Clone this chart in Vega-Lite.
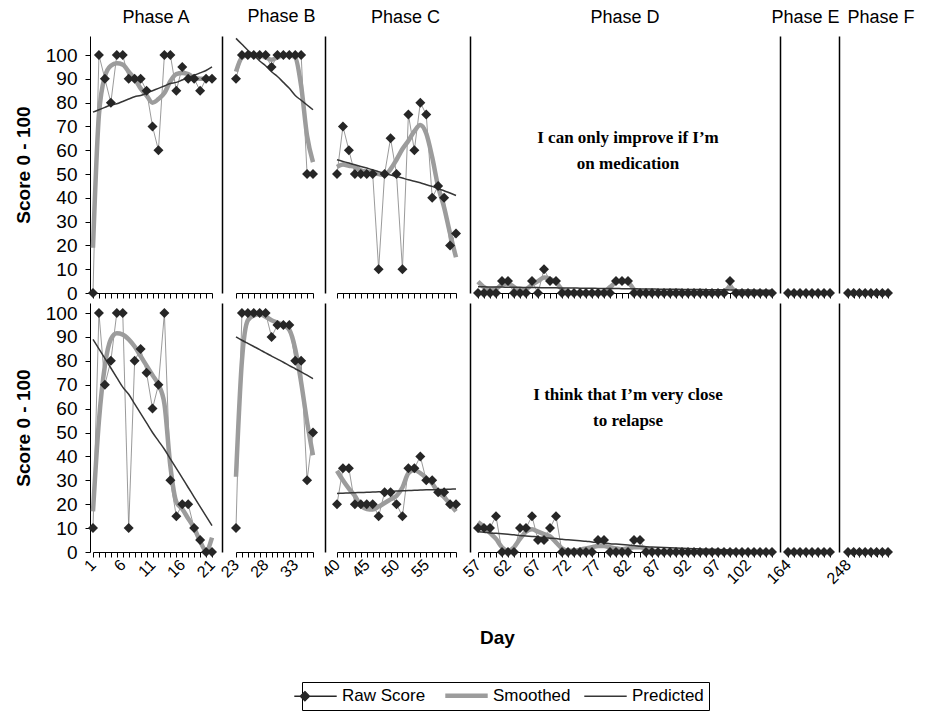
{
"$schema":"https://vega.github.io/schema/vega-lite/v6.json",
"background":"white",
"padding":{"left":14,"top":8,"right":5,"bottom":0},
"config":{"font":"Liberation Sans","view":{"stroke":null},
"axis":{"grid":false,"domainColor":"#000","tickColor":"#000","labelColor":"#000","titleColor":"#000","tickSize":5,"domainWidth":1,"tickWidth":1},
"title":{"fontSize":18,"fontWeight":"normal","color":"#000","anchor":"middle","frame":"group","offset":9}},
"datasets":{"obs":[
{"phase":"A","day":1,"raw1":0,"smooth1":19,"pred1":76,"raw2":10,"smooth2":17,"pred2":89},
{"phase":"A","day":2,"raw1":100,"smooth1":75,"pred1":77,"raw2":100,"smooth2":55,"pred2":85},
{"phase":"A","day":3,"raw1":90,"smooth1":91,"pred1":78,"raw2":70,"smooth2":78,"pred2":81},
{"phase":"A","day":4,"raw1":80,"smooth1":95.5,"pred1":79,"raw2":80,"smooth2":89,"pred2":77},
{"phase":"A","day":5,"raw1":100,"smooth1":96.5,"pred1":79.5,"raw2":100,"smooth2":91.5,"pred2":73},
{"phase":"A","day":6,"raw1":100,"smooth1":96,"pred1":80.5,"raw2":100,"smooth2":91,"pred2":69},
{"phase":"A","day":7,"raw1":90,"smooth1":93,"pred1":81.5,"raw2":10,"smooth2":89,"pred2":66},
{"phase":"A","day":8,"raw1":90,"smooth1":90,"pred1":82.5,"raw2":80,"smooth2":86,"pred2":62},
{"phase":"A","day":9,"raw1":90,"smooth1":86,"pred1":83,"raw2":85,"smooth2":82,"pred2":58},
{"phase":"A","day":10,"raw1":85,"smooth1":83,"pred1":84,"raw2":75,"smooth2":78,"pred2":54},
{"phase":"A","day":11,"raw1":70,"smooth1":80,"pred1":85,"raw2":60,"smooth2":74,"pred2":50},
{"phase":"A","day":12,"raw1":60,"smooth1":81.5,"pred1":86,"raw2":70,"smooth2":70,"pred2":46.5},
{"phase":"A","day":13,"raw1":100,"smooth1":84,"pred1":87,"raw2":100,"smooth2":62,"pred2":43},
{"phase":"A","day":14,"raw1":100,"smooth1":89,"pred1":88,"raw2":30,"smooth2":36,"pred2":39},
{"phase":"A","day":15,"raw1":85,"smooth1":92,"pred1":88.5,"raw2":15,"smooth2":21,"pred2":35},
{"phase":"A","day":16,"raw1":95,"smooth1":92.5,"pred1":89.5,"raw2":20,"smooth2":18,"pred2":31},
{"phase":"A","day":17,"raw1":90,"smooth1":92,"pred1":90.5,"raw2":20,"smooth2":14,"pred2":27},
{"phase":"A","day":18,"raw1":90,"smooth1":90.5,"pred1":91.5,"raw2":10,"smooth2":10,"pred2":23},
{"phase":"A","day":19,"raw1":85,"smooth1":90,"pred1":92.5,"raw2":5,"smooth2":4.5,"pred2":19},
{"phase":"A","day":20,"raw1":90,"smooth1":90,"pred1":93.5,"raw2":0,"smooth2":0.5,"pred2":15},
{"phase":"A","day":21,"raw1":90,"smooth1":90,"pred1":95,"raw2":0,"smooth2":6,"pred2":11},
{"phase":"B","day":23,"raw1":90,"smooth1":93,"pred1":107,"raw2":10,"smooth2":31.5,"pred2":90},
{"phase":"B","day":24,"raw1":100,"smooth1":99,"pred1":104.5,"raw2":100,"smooth2":80,"pred2":88.6},
{"phase":"B","day":25,"raw1":100,"smooth1":100,"pred1":102,"raw2":100,"smooth2":97,"pred2":87.3},
{"phase":"B","day":26,"raw1":100,"smooth1":100,"pred1":100,"raw2":100,"smooth2":99,"pred2":86},
{"phase":"B","day":27,"raw1":100,"smooth1":100,"pred1":97.5,"raw2":100,"smooth2":99.5,"pred2":84.7},
{"phase":"B","day":28,"raw1":100,"smooth1":99,"pred1":95.5,"raw2":100,"smooth2":98.5,"pred2":83.3},
{"phase":"B","day":29,"raw1":95,"smooth1":98,"pred1":93,"raw2":90,"smooth2":97,"pred2":82},
{"phase":"B","day":30,"raw1":100,"smooth1":99,"pred1":91,"raw2":95,"smooth2":96,"pred2":80.7},
{"phase":"B","day":31,"raw1":100,"smooth1":100,"pred1":88.5,"raw2":95,"smooth2":95,"pred2":79.4},
{"phase":"B","day":32,"raw1":100,"smooth1":100,"pred1":86,"raw2":95,"smooth2":93,"pred2":78},
{"phase":"B","day":33,"raw1":100,"smooth1":99,"pred1":83,"raw2":80,"smooth2":85,"pred2":76.7},
{"phase":"B","day":34,"raw1":100,"smooth1":87,"pred1":81,"raw2":80,"smooth2":71,"pred2":75.4},
{"phase":"B","day":35,"raw1":50,"smooth1":66,"pred1":79,"raw2":30,"smooth2":54.5,"pred2":74},
{"phase":"B","day":36,"raw1":50,"smooth1":55,"pred1":77,"raw2":50,"smooth2":40.5,"pred2":72.5},
{"phase":"C","day":40,"raw1":50,"smooth1":53,"pred1":56,"raw2":20,"smooth2":34,"pred2":24.5},
{"phase":"C","day":41,"raw1":70,"smooth1":54,"pred1":55.3,"raw2":35,"smooth2":30,"pred2":24.6},
{"phase":"C","day":42,"raw1":60,"smooth1":53.5,"pred1":54.6,"raw2":35,"smooth2":26.5,"pred2":24.7},
{"phase":"C","day":43,"raw1":50,"smooth1":53,"pred1":53.9,"raw2":20,"smooth2":23.5,"pred2":24.8},
{"phase":"C","day":44,"raw1":50,"smooth1":51.5,"pred1":53.2,"raw2":20,"smooth2":19.5,"pred2":24.9},
{"phase":"C","day":45,"raw1":50,"smooth1":51,"pred1":52.5,"raw2":20,"smooth2":18,"pred2":25},
{"phase":"C","day":46,"raw1":50,"smooth1":50.5,"pred1":51.8,"raw2":20,"smooth2":17.8,"pred2":25.1},
{"phase":"C","day":47,"raw1":10,"smooth1":50,"pred1":51,"raw2":15,"smooth2":19,"pred2":25.2},
{"phase":"C","day":48,"raw1":50,"smooth1":49.7,"pred1":50.3,"raw2":25,"smooth2":20.5,"pred2":25.3},
{"phase":"C","day":49,"raw1":65,"smooth1":52,"pred1":49.6,"raw2":25,"smooth2":22,"pred2":25.4},
{"phase":"C","day":50,"raw1":50,"smooth1":56,"pred1":49,"raw2":20,"smooth2":23.5,"pred2":25.5},
{"phase":"C","day":51,"raw1":10,"smooth1":60.5,"pred1":48.3,"raw2":15,"smooth2":27,"pred2":25.6},
{"phase":"C","day":52,"raw1":75,"smooth1":64,"pred1":47.6,"raw2":35,"smooth2":33,"pred2":25.7},
{"phase":"C","day":53,"raw1":60,"smooth1":68,"pred1":47,"raw2":35,"smooth2":34.3,"pred2":25.8},
{"phase":"C","day":54,"raw1":80,"smooth1":70.6,"pred1":46.3,"raw2":40,"smooth2":33,"pred2":25.9},
{"phase":"C","day":55,"raw1":75,"smooth1":67,"pred1":45.5,"raw2":30,"smooth2":31,"pred2":26},
{"phase":"C","day":56,"raw1":40,"smooth1":57,"pred1":44.8,"raw2":30,"smooth2":28.7,"pred2":26},
{"phase":"C","day":57,"raw1":45,"smooth1":44.7,"pred1":43.8,"raw2":25,"smooth2":25,"pred2":26.1},
{"phase":"C","day":58,"raw1":40,"smooth1":36,"pred1":43,"raw2":25,"smooth2":23,"pred2":26.2},
{"phase":"C","day":59,"raw1":20,"smooth1":25,"pred1":42,"raw2":20,"smooth2":20,"pred2":26.3},
{"phase":"C","day":60,"raw1":25,"smooth1":15,"pred1":41,"raw2":20,"smooth2":17,"pred2":26.4},
{"phase":"D","day":57,"raw1":0,"smooth1":4.8,"pred1":2.6,"raw2":10,"smooth2":12.5,"pred2":8.5},
{"phase":"D","day":58,"raw1":0,"smooth1":2.5,"pred1":2.6,"raw2":10,"smooth2":10.5,"pred2":8.3},
{"phase":"D","day":59,"raw1":0,"smooth1":1.5,"pred1":2.5,"raw2":10,"smooth2":8,"pred2":8.0},
{"phase":"D","day":60,"raw1":0,"smooth1":1.8,"pred1":2.5,"raw2":15,"smooth2":5.5,"pred2":7.8},
{"phase":"D","day":61,"raw1":5,"smooth1":3.5,"pred1":2.5,"raw2":0,"smooth2":2,"pred2":7.6},
{"phase":"D","day":62,"raw1":5,"smooth1":4,"pred1":2.4,"raw2":0,"smooth2":0.5,"pred2":7.4},
{"phase":"D","day":63,"raw1":0,"smooth1":2.5,"pred1":2.4,"raw2":0,"smooth2":2,"pred2":7.2},
{"phase":"D","day":64,"raw1":0,"smooth1":1,"pred1":2.4,"raw2":10,"smooth2":5.5,"pred2":6.9},
{"phase":"D","day":65,"raw1":0,"smooth1":1.5,"pred1":2.3,"raw2":10,"smooth2":8.5,"pred2":6.7},
{"phase":"D","day":66,"raw1":5,"smooth1":3.5,"pred1":2.3,"raw2":15,"smooth2":9.5,"pred2":6.5},
{"phase":"D","day":67,"raw1":0,"smooth1":5,"pred1":2.3,"raw2":5,"smooth2":8.5,"pred2":6.3},
{"phase":"D","day":68,"raw1":10,"smooth1":6.5,"pred1":2.2,"raw2":5,"smooth2":7.5,"pred2":6.0},
{"phase":"D","day":69,"raw1":5,"smooth1":6,"pred1":2.2,"raw2":10,"smooth2":6.5,"pred2":5.8},
{"phase":"D","day":70,"raw1":5,"smooth1":4.5,"pred1":2.2,"raw2":15,"smooth2":4,"pred2":5.6},
{"phase":"D","day":71,"raw1":0,"smooth1":1.5,"pred1":2.1,"raw2":0,"smooth2":1.5,"pred2":5.3},
{"phase":"D","day":72,"raw1":0,"smooth1":0.3,"pred1":2.1,"raw2":0,"smooth2":0.5,"pred2":5.1},
{"phase":"D","day":73,"raw1":0,"smooth1":0,"pred1":2.1,"raw2":0,"smooth2":0.5,"pred2":4.9},
{"phase":"D","day":74,"raw1":0,"smooth1":0,"pred1":2.0,"raw2":0,"smooth2":1,"pred2":4.7},
{"phase":"D","day":75,"raw1":0,"smooth1":0,"pred1":2.0,"raw2":0,"smooth2":1.5,"pred2":4.5},
{"phase":"D","day":76,"raw1":0,"smooth1":0,"pred1":2.0,"raw2":0,"smooth2":2,"pred2":4.2},
{"phase":"D","day":77,"raw1":0,"smooth1":0,"pred1":1.9,"raw2":5,"smooth2":2.5,"pred2":4.0},
{"phase":"D","day":78,"raw1":0,"smooth1":0.5,"pred1":1.9,"raw2":5,"smooth2":2.5,"pred2":3.8},
{"phase":"D","day":79,"raw1":0,"smooth1":2.5,"pred1":1.9,"raw2":0,"smooth2":2,"pred2":3.5},
{"phase":"D","day":80,"raw1":5,"smooth1":4.5,"pred1":1.9,"raw2":0,"smooth2":1.5,"pred2":3.3},
{"phase":"D","day":81,"raw1":5,"smooth1":5,"pred1":1.8,"raw2":0,"smooth2":1.2,"pred2":3.1},
{"phase":"D","day":82,"raw1":5,"smooth1":4.5,"pred1":1.8,"raw2":0,"smooth2":1.5,"pred2":2.9},
{"phase":"D","day":83,"raw1":0,"smooth1":1.5,"pred1":1.8,"raw2":5,"smooth2":2,"pred2":2.7},
{"phase":"D","day":84,"raw1":0,"smooth1":0.2,"pred1":1.7,"raw2":5,"smooth2":2,"pred2":2.4},
{"phase":"D","day":85,"raw1":0,"smooth1":0,"pred1":1.7,"raw2":0,"smooth2":1.5,"pred2":2.2},
{"phase":"D","day":86,"raw1":0,"smooth1":0,"pred1":1.7,"raw2":0,"smooth2":0.8,"pred2":2.1},
{"phase":"D","day":87,"raw1":0,"smooth1":0,"pred1":1.6,"raw2":0,"smooth2":0.3,"pred2":2.0},
{"phase":"D","day":88,"raw1":0,"smooth1":0,"pred1":1.6,"raw2":0,"smooth2":0,"pred2":1.9},
{"phase":"D","day":89,"raw1":0,"smooth1":0,"pred1":1.6,"raw2":0,"smooth2":0,"pred2":1.8},
{"phase":"D","day":90,"raw1":0,"smooth1":0,"pred1":1.6,"raw2":0,"smooth2":0,"pred2":1.7},
{"phase":"D","day":91,"raw1":0,"smooth1":0,"pred1":1.5,"raw2":0,"smooth2":0,"pred2":1.6},
{"phase":"D","day":92,"raw1":0,"smooth1":0,"pred1":1.5,"raw2":0,"smooth2":0,"pred2":1.5},
{"phase":"D","day":93,"raw1":0,"smooth1":0,"pred1":1.5,"raw2":0,"smooth2":0,"pred2":1.4},
{"phase":"D","day":94,"raw1":0,"smooth1":0,"pred1":1.5,"raw2":0,"smooth2":0,"pred2":1.3},
{"phase":"D","day":95,"raw1":0,"smooth1":0,"pred1":1.4,"raw2":0,"smooth2":0,"pred2":1.2},
{"phase":"D","day":96,"raw1":0,"smooth1":0,"pred1":1.4,"raw2":0,"smooth2":0,"pred2":1.1},
{"phase":"D","day":97,"raw1":0,"smooth1":0,"pred1":1.4,"raw2":0,"smooth2":0,"pred2":1.0},
{"phase":"D","day":98,"raw1":0,"smooth1":0.5,"pred1":1.4,"raw2":0,"smooth2":0,"pred2":0.9},
{"phase":"D","day":99,"raw1":5,"smooth1":2.5,"pred1":1.3,"raw2":0,"smooth2":0,"pred2":0.8},
{"phase":"D","day":100,"raw1":0,"smooth1":0.5,"pred1":1.3,"raw2":0,"smooth2":0,"pred2":0.7},
{"phase":"D","day":101,"raw1":0,"smooth1":0,"pred1":1.3,"raw2":0,"smooth2":0,"pred2":0.6},
{"phase":"D","day":102,"raw1":0,"smooth1":0,"pred1":1.3,"raw2":0,"smooth2":0,"pred2":0.55},
{"phase":"D","day":103,"raw1":0,"smooth1":0,"pred1":1.2,"raw2":0,"smooth2":0,"pred2":0.5},
{"phase":"D","day":104,"raw1":0,"smooth1":0,"pred1":1.2,"raw2":0,"smooth2":0,"pred2":0.4},
{"phase":"D","day":105,"raw1":0,"smooth1":0,"pred1":1.2,"raw2":0,"smooth2":0,"pred2":0.35},
{"phase":"D","day":106,"raw1":0,"smooth1":0,"pred1":1.2,"raw2":0,"smooth2":0,"pred2":0.3},
{"phase":"E","day":164,"raw1":0,"raw2":0},
{"phase":"E","day":165,"raw1":0,"raw2":0},
{"phase":"E","day":166,"raw1":0,"raw2":0},
{"phase":"E","day":167,"raw1":0,"raw2":0},
{"phase":"E","day":168,"raw1":0,"raw2":0},
{"phase":"E","day":169,"raw1":0,"raw2":0},
{"phase":"E","day":170,"raw1":0,"raw2":0},
{"phase":"E","day":171,"raw1":0,"raw2":0},
{"phase":"F","day":248,"raw1":0,"raw2":0},
{"phase":"F","day":249,"raw1":0,"raw2":0},
{"phase":"F","day":250,"raw1":0,"raw2":0},
{"phase":"F","day":251,"raw1":0,"raw2":0},
{"phase":"F","day":252,"raw1":0,"raw2":0},
{"phase":"F","day":253,"raw1":0,"raw2":0},
{"phase":"F","day":254,"raw1":0,"raw2":0},
{"phase":"F","day":255,"raw1":0,"raw2":0}
]},
"data":{"name":"obs"},
"spacing":0,
"resolve":{"scale":{"color":"shared"},"legend":{"color":"shared"}},
"vconcat":[
{"spacing":0,"bounds":"flush","resolve":{"scale":{"color":"shared"},"legend":{"color":"shared"}},
"hconcat":[
{"width":132,"height":257,"title":{"text":"Phase A"},
"transform":[{"filter":{"field":"phase","equal":"A"}}],
"encoding":{"x":{"field":"day","type":"ordinal","scale":{"padding":0,"range":[3,122]},"axis":{"labels":false,"title":null}}},
"layer":[
{"mark":{"type":"line","color":"#808080","strokeWidth":0.8},"encoding":{"y":{"field":"raw1","type":"quantitative","scale":{"domain":[0,108],"nice":false},"axis":{"title":"Score 0 - 100","values":[0,10,20,30,40,50,60,70,80,90,100],"tickCount":11,"labelOverlap":false,"labelFontSize":19,"titleFontSize":19,"titleFontWeight":"bold","labelPadding":8,"titlePadding":12}}}},
{"mark":{"type":"line","strokeWidth":4.5,"interpolate":"monotone"},"encoding":{"y":{"field":"smooth1","type":"quantitative"},"color":{"datum":"Smoothed","type":"nominal","scale":{"domain":["Raw Score","Smoothed","Predicted"],"range":["#262626","#9c9c9c","#363636"]},
"legend":{"orient":"none","legendX":212,"legendY":646,"direction":"horizontal","title":null,"strokeColor":"#000","padding":5,"labelFontSize":17,"labelColor":"#000","symbolSize":1800,"symbolType":"stroke","columnPadding":10,"labelOffset":18,"values":["Raw Score","Smoothed","Predicted"],
"encode":{"symbols":{"update":{"shape":{"signal":"datum.value === 'Raw Score' ? 'M-1,0L1,0M-0.5,-0.22L-0.28,0L-0.5,0.22L-0.72,0Z' : 'stroke'"},"strokeWidth":{"signal":"datum.value === 'Smoothed' ? 4.5 : 1.3"},"stroke":{"scale":"color","field":"value"},"fill":{"signal":"datum.value === 'Raw Score' ? '#262626' : 'transparent'"},"opacity":{"value":1},"fillOpacity":{"value":1},"strokeOpacity":{"value":1}}}}}}}},
{"mark":{"type":"line","strokeWidth":1.5,"interpolate":"monotone"},"encoding":{"y":{"field":"pred1","type":"quantitative"},"color":{"datum":"Predicted","type":"nominal"}}},
{"mark":{"type":"point","shape":"diamond","filled":true,"size":100,"opacity":1},"encoding":{"y":{"field":"raw1","type":"quantitative"},"color":{"datum":"Raw Score","type":"nominal"}}}
]},
{"width":103,"height":257,"title":{"text":"Phase B","dx":8},
"transform":[{"filter":{"field":"phase","equal":"B"}}],
"encoding":{"x":{"field":"day","type":"ordinal","scale":{"padding":0,"range":[14,91]},"axis":{"labels":false,"title":null}}},
"layer":[
{"mark":{"type":"line","color":"#808080","strokeWidth":0.8},"encoding":{"y":{"field":"raw1","type":"quantitative","scale":{"domain":[0,108],"nice":false},"axis":{"title":null,"labels":false,"ticks":false,"domainWidth":1.5}}}},
{"mark":{"type":"line","strokeWidth":4.5,"interpolate":"monotone"},"encoding":{"y":{"field":"smooth1","type":"quantitative"},"color":{"datum":"Smoothed","type":"nominal"}}},
{"mark":{"type":"line","strokeWidth":1.5,"interpolate":"monotone"},"encoding":{"y":{"field":"pred1","type":"quantitative"},"color":{"datum":"Predicted","type":"nominal"}}},
{"mark":{"type":"point","shape":"diamond","filled":true,"size":100,"opacity":1},"encoding":{"y":{"field":"raw1","type":"quantitative"},"color":{"datum":"Raw Score","type":"nominal"}}}
]},
{"width":145,"height":257,"title":{"text":"Phase C","dx":8},
"transform":[{"filter":{"field":"phase","equal":"C"}}],
"encoding":{"x":{"field":"day","type":"ordinal","scale":{"padding":0,"range":[12,131]},"axis":{"labels":false,"title":null}}},
"layer":[
{"mark":{"type":"line","color":"#808080","strokeWidth":0.8},"encoding":{"y":{"field":"raw1","type":"quantitative","scale":{"domain":[0,108],"nice":false},"axis":{"title":null,"labels":false,"ticks":false,"domainWidth":1.5}}}},
{"mark":{"type":"line","strokeWidth":4.5,"interpolate":"monotone"},"encoding":{"y":{"field":"smooth1","type":"quantitative"},"color":{"datum":"Smoothed","type":"nominal"}}},
{"mark":{"type":"line","strokeWidth":1.5,"interpolate":"monotone"},"encoding":{"y":{"field":"pred1","type":"quantitative"},"color":{"datum":"Predicted","type":"nominal"}}},
{"mark":{"type":"point","shape":"diamond","filled":true,"size":100,"opacity":1},"encoding":{"y":{"field":"raw1","type":"quantitative"},"color":{"datum":"Raw Score","type":"nominal"}}}
]},
{"width":310,"height":257,"title":{"text":"Phase D"},
"transform":[{"filter":{"field":"phase","equal":"D"}}],
"encoding":{"x":{"field":"day","type":"ordinal","scale":{"padding":0,"range":[8,302]},"axis":{"labels":false,"title":null}}},
"layer":[
{"mark":{"type":"line","color":"#808080","strokeWidth":0.8},"encoding":{"y":{"field":"raw1","type":"quantitative","scale":{"domain":[0,108],"nice":false},"axis":{"title":null,"labels":false,"ticks":false,"domainWidth":1.5}}}},
{"mark":{"type":"line","strokeWidth":4.5,"interpolate":"monotone"},"encoding":{"y":{"field":"smooth1","type":"quantitative"},"color":{"datum":"Smoothed","type":"nominal"}}},
{"mark":{"type":"line","strokeWidth":1.5,"interpolate":"monotone"},"encoding":{"y":{"field":"pred1","type":"quantitative"},"color":{"datum":"Predicted","type":"nominal"}}},
{"mark":{"type":"point","shape":"diamond","filled":true,"size":100,"opacity":1},"encoding":{"y":{"field":"raw1","type":"quantitative"},"color":{"datum":"Raw Score","type":"nominal"}}},
{"data":{"values":[{"phase":"D","note":"I can only improve if I’m\non medication"}]},"mark":{"type":"text","font":"Liberation Serif","fontWeight":"bold","fontSize":17,"lineBreak":"\n","lineHeight":26,"color":"#000"},"encoding":{"x":{"datum":82,"type":"ordinal"},"y":{"datum":65,"type":"quantitative"},"text":{"field":"note"}}}
]},
{"width":59,"height":257,"title":{"text":"Phase E","dx":-4},
"transform":[{"filter":{"field":"phase","equal":"E"}}],
"encoding":{"x":{"field":"day","type":"ordinal","scale":{"padding":0,"range":[8,50]},"axis":{"labels":false,"title":null}}},
"layer":[
{"mark":{"type":"line","color":"#808080","strokeWidth":0.8},"encoding":{"y":{"field":"raw1","type":"quantitative","scale":{"domain":[0,108],"nice":false},"axis":{"title":null,"labels":false,"ticks":false,"domainWidth":1.5}}}},
{"mark":{"type":"point","shape":"diamond","filled":true,"size":100,"opacity":1},"encoding":{"y":{"field":"raw1","type":"quantitative"},"color":{"datum":"Raw Score","type":"nominal"}}}
]},
{"width":56,"height":257,"title":{"text":"Phase F","dx":14},
"transform":[{"filter":{"field":"phase","equal":"F"}}],
"encoding":{"x":{"field":"day","type":"ordinal","scale":{"padding":0,"range":[9,49]},"axis":{"labels":false,"title":null}}},
"layer":[
{"mark":{"type":"line","color":"#808080","strokeWidth":0.8},"encoding":{"y":{"field":"raw1","type":"quantitative","scale":{"domain":[0,108],"nice":false},"axis":{"title":null,"labels":false,"ticks":false,"domainWidth":1.5}}}},
{"mark":{"type":"point","shape":"diamond","filled":true,"size":100,"opacity":1},"encoding":{"y":{"field":"raw1","type":"quantitative"},"color":{"datum":"Raw Score","type":"nominal"}}}
]}
]},
{"spacing":0,"bounds":"flush","resolve":{"scale":{"color":"shared"},"legend":{"color":"shared"}},
"hconcat":[
{"width":132,"height":249,
"transform":[{"filter":{"field":"phase","equal":"A"}}],
"encoding":{"x":{"field":"day","type":"ordinal","scale":{"padding":0,"range":[3,122]},"axis":{"title":null,"labelAngle":-45,"labelAlign":"right","labelBaseline":"middle","labelFontSize":16,"labelPadding":5,"labelOverlap":false,"labelExpr":"indexof([1,6,11,16,21], datum.value) >= 0 ? datum.label : ''"}}},
"layer":[
{"mark":{"type":"line","color":"#808080","strokeWidth":0.8},"encoding":{"y":{"field":"raw2","type":"quantitative","scale":{"domain":[0,104.2],"nice":false},"axis":{"title":"Score 0 - 100","values":[0,10,20,30,40,50,60,70,80,90,100],"tickCount":11,"labelOverlap":false,"labelFontSize":19,"titleFontSize":19,"titleFontWeight":"bold","labelPadding":8,"titlePadding":12}}}},
{"mark":{"type":"line","strokeWidth":4.5,"interpolate":"monotone"},"encoding":{"y":{"field":"smooth2","type":"quantitative"},"color":{"datum":"Smoothed","type":"nominal"}}},
{"mark":{"type":"line","strokeWidth":1.5,"interpolate":"monotone"},"encoding":{"y":{"field":"pred2","type":"quantitative"},"color":{"datum":"Predicted","type":"nominal"}}},
{"mark":{"type":"point","shape":"diamond","filled":true,"size":100,"opacity":1},"encoding":{"y":{"field":"raw2","type":"quantitative"},"color":{"datum":"Raw Score","type":"nominal"}}}
]},
{"width":103,"height":249,
"transform":[{"filter":{"field":"phase","equal":"B"}}],
"encoding":{"x":{"field":"day","type":"ordinal","scale":{"padding":0,"range":[14,91]},"axis":{"title":null,"labelAngle":-45,"labelAlign":"right","labelBaseline":"middle","labelFontSize":16,"labelPadding":5,"labelOverlap":false,"labelExpr":"indexof([23,28,33], datum.value) >= 0 ? datum.label : ''"}}},
"layer":[
{"mark":{"type":"line","color":"#808080","strokeWidth":0.8},"encoding":{"y":{"field":"raw2","type":"quantitative","scale":{"domain":[0,104.2],"nice":false},"axis":{"title":null,"labels":false,"ticks":false,"domainWidth":1.5}}}},
{"mark":{"type":"line","strokeWidth":4.5,"interpolate":"monotone"},"encoding":{"y":{"field":"smooth2","type":"quantitative"},"color":{"datum":"Smoothed","type":"nominal"}}},
{"mark":{"type":"line","strokeWidth":1.5,"interpolate":"monotone"},"encoding":{"y":{"field":"pred2","type":"quantitative"},"color":{"datum":"Predicted","type":"nominal"}}},
{"mark":{"type":"point","shape":"diamond","filled":true,"size":100,"opacity":1},"encoding":{"y":{"field":"raw2","type":"quantitative"},"color":{"datum":"Raw Score","type":"nominal"}}}
]},
{"width":145,"height":249,
"transform":[{"filter":{"field":"phase","equal":"C"}}],
"encoding":{"x":{"field":"day","type":"ordinal","scale":{"padding":0,"range":[12,131]},"axis":{"title":null,"labelAngle":-45,"labelAlign":"right","labelBaseline":"middle","labelFontSize":16,"labelPadding":5,"labelOverlap":false,"labelExpr":"indexof([40,45,50,55], datum.value) >= 0 ? datum.label : ''"}}},
"layer":[
{"mark":{"type":"line","color":"#808080","strokeWidth":0.8},"encoding":{"y":{"field":"raw2","type":"quantitative","scale":{"domain":[0,104.2],"nice":false},"axis":{"title":null,"labels":false,"ticks":false,"domainWidth":1.5}}}},
{"mark":{"type":"line","strokeWidth":4.5,"interpolate":"monotone"},"encoding":{"y":{"field":"smooth2","type":"quantitative"},"color":{"datum":"Smoothed","type":"nominal"}}},
{"mark":{"type":"line","strokeWidth":1.5,"interpolate":"monotone"},"encoding":{"y":{"field":"pred2","type":"quantitative"},"color":{"datum":"Predicted","type":"nominal"}}},
{"mark":{"type":"point","shape":"diamond","filled":true,"size":100,"opacity":1},"encoding":{"y":{"field":"raw2","type":"quantitative"},"color":{"datum":"Raw Score","type":"nominal"}}}
]},
{"width":310,"height":249,
"transform":[{"filter":{"field":"phase","equal":"D"}}],
"encoding":{"x":{"field":"day","type":"ordinal","scale":{"padding":0,"range":[8,302]},"axis":{"title":"Day","titleX":27,"titleY":76,"titleFontSize":19,"titleFontWeight":"bold","labelAngle":-45,"labelAlign":"right","labelBaseline":"middle","labelFontSize":16,"labelPadding":5,"labelOverlap":false,"labelExpr":"indexof([57,62,67,72,77,82,87,92,97,102], datum.value) >= 0 ? datum.label : ''"}}},
"layer":[
{"mark":{"type":"line","color":"#808080","strokeWidth":0.8},"encoding":{"y":{"field":"raw2","type":"quantitative","scale":{"domain":[0,104.2],"nice":false},"axis":{"title":null,"labels":false,"ticks":false,"domainWidth":1.5}}}},
{"mark":{"type":"line","strokeWidth":4.5,"interpolate":"monotone"},"encoding":{"y":{"field":"smooth2","type":"quantitative"},"color":{"datum":"Smoothed","type":"nominal"}}},
{"mark":{"type":"line","strokeWidth":1.5,"interpolate":"monotone"},"encoding":{"y":{"field":"pred2","type":"quantitative"},"color":{"datum":"Predicted","type":"nominal"}}},
{"mark":{"type":"point","shape":"diamond","filled":true,"size":100,"opacity":1},"encoding":{"y":{"field":"raw2","type":"quantitative"},"color":{"datum":"Raw Score","type":"nominal"}}},
{"data":{"values":[{"phase":"D","note":"I think that I’m very close\nto relapse"}]},"mark":{"type":"text","font":"Liberation Serif","fontWeight":"bold","fontSize":17,"lineBreak":"\n","lineHeight":26,"color":"#000"},"encoding":{"x":{"datum":82,"type":"ordinal"},"y":{"datum":65.5,"type":"quantitative"},"text":{"field":"note"}}}
]},
{"width":59,"height":249,
"transform":[{"filter":{"field":"phase","equal":"E"}}],
"encoding":{"x":{"field":"day","type":"ordinal","scale":{"padding":0,"range":[8,50]},"axis":{"title":null,"labelAngle":-45,"labelAlign":"right","labelBaseline":"middle","labelFontSize":16,"labelPadding":5,"labelOverlap":false,"labelExpr":"indexof([164], datum.value) >= 0 ? datum.label : ''"}}},
"layer":[
{"mark":{"type":"line","color":"#808080","strokeWidth":0.8},"encoding":{"y":{"field":"raw2","type":"quantitative","scale":{"domain":[0,104.2],"nice":false},"axis":{"title":null,"labels":false,"ticks":false,"domainWidth":1.5}}}},
{"mark":{"type":"point","shape":"diamond","filled":true,"size":100,"opacity":1},"encoding":{"y":{"field":"raw2","type":"quantitative"},"color":{"datum":"Raw Score","type":"nominal"}}}
]},
{"width":56,"height":249,
"transform":[{"filter":{"field":"phase","equal":"F"}}],
"encoding":{"x":{"field":"day","type":"ordinal","scale":{"padding":0,"range":[9,49]},"axis":{"title":null,"labelAngle":-45,"labelAlign":"right","labelBaseline":"middle","labelFontSize":16,"labelPadding":5,"labelOverlap":false,"labelExpr":"indexof([248], datum.value) >= 0 ? datum.label : ''"}}},
"layer":[
{"mark":{"type":"line","color":"#808080","strokeWidth":0.8},"encoding":{"y":{"field":"raw2","type":"quantitative","scale":{"domain":[0,104.2],"nice":false},"axis":{"title":null,"labels":false,"ticks":false,"domainWidth":1.5}}}},
{"mark":{"type":"point","shape":"diamond","filled":true,"size":100,"opacity":1},"encoding":{"y":{"field":"raw2","type":"quantitative"},"color":{"datum":"Raw Score","type":"nominal"}}}
]}
]}
]
}
